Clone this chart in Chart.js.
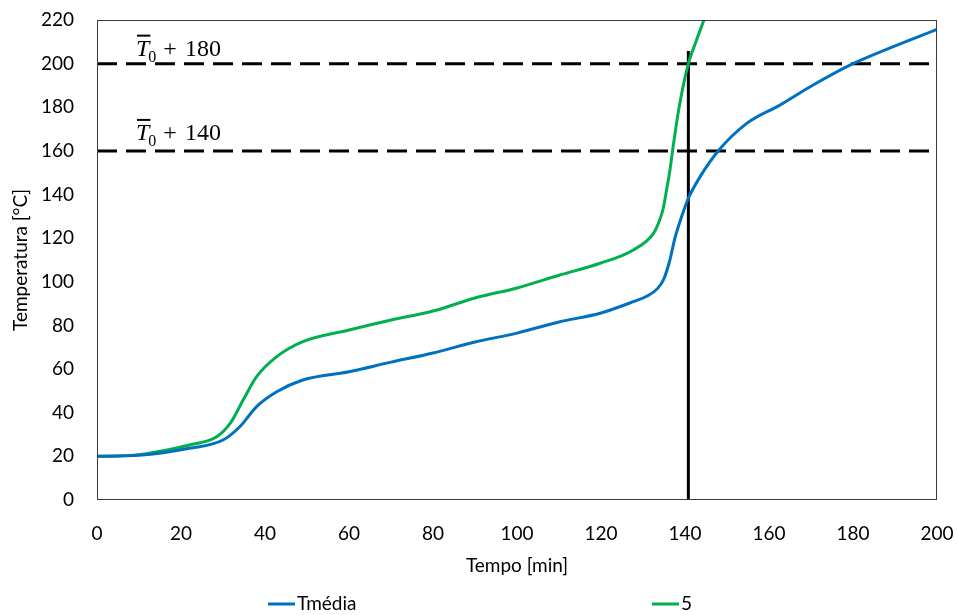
<!DOCTYPE html>
<html>
<head>
<meta charset="utf-8">
<script src="https://cdn.jsdelivr.net/npm/chart.js@4.4.1/dist/chart.umd.min.js"></script>
<style>
  html, body { margin: 0; padding: 0; background: #fff; }
  #wrap { width: 958px; height: 615px; position: relative; }
</style>
</head>
<body>
<div id="wrap"><canvas id="c" width="958" height="615"></canvas></div>
<script>
// Mean temperature (Tmédia) over time
const timeMean = [0, 10, 22, 30, 34, 38, 42.8, 49, 60, 70, 80, 90, 100, 110, 119.8, 127.7, 131, 133.5, 135, 136.4, 137.6, 139.2, 140.8, 143.6, 148, 154.7, 162.6, 170.5, 180, 189.6, 200];
const tempMean = [20, 20.5, 23.7, 27.5, 33.6, 42.8, 49.6, 55, 58.8, 63.2, 67.4, 72.4, 76.5, 81.6, 85.6, 90.9, 93.5, 97, 101.5, 110, 120, 129.9, 138.3, 148.2, 160.2, 172.6, 181, 190.2, 200, 207.8, 215.7];

// Thermocouple 5
const time5 = [0, 10, 22, 28.5, 31.7, 34.8, 38, 42.8, 49, 60, 70, 80, 90, 100, 110, 119.8, 127.7, 132.5, 133.8, 134.8, 135.6, 136.4, 137.1, 138.6, 140.8, 142.6, 144.5, 146];
const temp5 = [20, 20.8, 25.2, 29, 35.1, 45.8, 56.5, 65.7, 72.6, 77.9, 82.5, 86.6, 92.6, 97.2, 103, 108.5, 114.6, 122.2, 127.5, 133.5, 142, 151, 161, 180, 200, 210, 220, 228];

// Reference levels (T0 + 140, T0 + 180) and instant marker
const levelLow = 160;
const levelHigh = 200;
const levelLabels = ['140', '180'];
const markerTime = 140.8;
const markerTop = 205.8;

const xTicks = { min: 0, max: 200, step: 20 };
const yTicks = { min: 0, max: 220, step: 20 };

const seriesNames = ['Tmédia', '5'];
const seriesColors = ['#0070C0', '#00B050'];

function pairs(xs, ys) { return xs.map((x, i) => ({ x: x, y: ys[i] })); }

const FONT = 'Lato, "Open Sans", sans-serif';

const frame = {
  id: 'frame',
  afterDatasetsDraw(chart) {
    const { ctx, chartArea: a } = chart;
    ctx.save();
    ctx.strokeStyle = '#3a3a3a';
    ctx.lineWidth = 1;
    ctx.strokeRect(Math.round(a.left) + 0.5, Math.round(a.top) + 0.5,
                   Math.round(a.right - a.left) - 1, Math.round(a.bottom - a.top) - 1);
    ctx.restore();
  }
};

const levelText = {
  id: 'levelText',
  afterDatasetsDraw(chart) {
    const { ctx } = chart;
    const ys = chart.scales.y;
    const xs = chart.scales.x;
    const items = [
      { v: levelHigh, t: levelLabels[1], dy: -8 },
      { v: levelLow, t: levelLabels[0], dy: -11 }
    ];
    ctx.save();
    ctx.fillStyle = '#000';
    ctx.strokeStyle = '#000';
    ctx.textBaseline = 'alphabetic';
    ctx.textAlign = 'left';
    items.forEach(it => {
      const base = ys.getPixelForValue(it.v) + it.dy;
      let x = xs.getPixelForValue(0) + 39;
      ctx.font = 'italic 24px "Liberation Serif", "DejaVu Serif", serif';
      ctx.fillText('T', x, base);
      const tw = ctx.measureText('T').width;
      ctx.lineWidth = 2;
      ctx.beginPath();
      ctx.moveTo(x + 1, base - 20);
      ctx.lineTo(x + tw + 1, base - 20);
      ctx.stroke();
      x += tw - 1;
      ctx.font = '16px "Liberation Serif", "DejaVu Serif", serif';
      ctx.fillText('0', x, base + 6);
      x += ctx.measureText('0').width + 7;
      ctx.font = '24px "Liberation Serif", "DejaVu Serif", serif';
      ctx.fillText('+', x, base);
      x += ctx.measureText('+').width + 8;
      ctx.fillText(it.t, x, base);
    });
    ctx.restore();
  }
};

const legendRow = {
  id: 'legendRow',
  afterDraw(chart) {
    const { ctx } = chart;
    const spots = [268, 652];
    const y = 604;
    ctx.save();
    ctx.font = '19px ' + FONT;
    ctx.textBaseline = 'middle';
    ctx.textAlign = 'left';
    seriesNames.forEach((name, i) => {
      ctx.strokeStyle = seriesColors[i];
      ctx.lineWidth = 3;
      ctx.beginPath();
      ctx.moveTo(spots[i], y);
      ctx.lineTo(spots[i] + 27, y);
      ctx.stroke();
      ctx.fillStyle = '#000';
      ctx.fillText(name, spots[i] + 29, y);
    });
    ctx.restore();
  }
};

new Chart(document.getElementById('c'), {
  type: 'line',
  data: {
    datasets: [
      {
        label: seriesNames[0],
        data: pairs(timeMean, tempMean),
        borderColor: seriesColors[0],
        borderWidth: 3,
        pointRadius: 0,
        cubicInterpolationMode: 'monotone',
        fill: false
      },
      {
        label: seriesNames[1],
        data: pairs(time5, temp5),
        borderColor: seriesColors[1],
        borderWidth: 3,
        pointRadius: 0,
        cubicInterpolationMode: 'monotone',
        fill: false
      },
      {
        label: 'T0+180',
        data: pairs([xTicks.min, xTicks.max], [levelHigh, levelHigh]),
        borderColor: '#000',
        borderWidth: 3,
        borderDash: [20, 9],
        pointRadius: 0,
        tension: 0
      },
      {
        label: 'T0+140',
        data: pairs([xTicks.min, xTicks.max], [levelLow, levelLow]),
        borderColor: '#000',
        borderWidth: 3,
        borderDash: [20, 9],
        pointRadius: 0,
        tension: 0
      },
      {
        label: 'marker',
        data: pairs([markerTime, markerTime], [yTicks.min, markerTop]),
        borderColor: '#000',
        borderWidth: 3,
        pointRadius: 0,
        tension: 0
      }
    ]
  },
  options: {
    responsive: false,
    animation: false,
    events: [],
    layout: { padding: { top: 20, right: 21, left: 0, bottom: 0 } },
    plugins: {
      legend: { display: false },
      tooltip: { enabled: false }
    },
    scales: {
      x: {
        type: 'linear',
        min: xTicks.min,
        max: xTicks.max,
        afterFit(s) { s.height = 115; s.paddingLeft = 0; s.paddingRight = 0; },
        grid: { display: false, drawTicks: false },
        border: { display: false },
        ticks: {
          stepSize: xTicks.step,
          padding: 22,
          color: '#000',
          font: { family: FONT, size: 19 }
        },
        title: {
          display: true,
          text: 'Tempo [min]',
          color: '#000',
          font: { family: FONT, size: 19 },
          padding: { top: 0, bottom: 38 }
        }
      },
      y: {
        type: 'linear',
        min: yTicks.min,
        max: yTicks.max,
        afterFit(s) { s.width = 97; s.paddingTop = 0; s.paddingBottom = 0; },
        grid: { display: false, drawTicks: false },
        border: { display: false },
        ticks: {
          stepSize: yTicks.step,
          padding: 23,
          color: '#000',
          font: { family: FONT, size: 19 }
        },
        title: {
          display: true,
          text: 'Temperatura [°C]',
          color: '#000',
          font: { family: FONT, size: 19 },
          padding: { top: 9, bottom: 0 }
        }
      }
    }
  },
  plugins: [frame, levelText, legendRow]
});
</script>
</body>
</html>
